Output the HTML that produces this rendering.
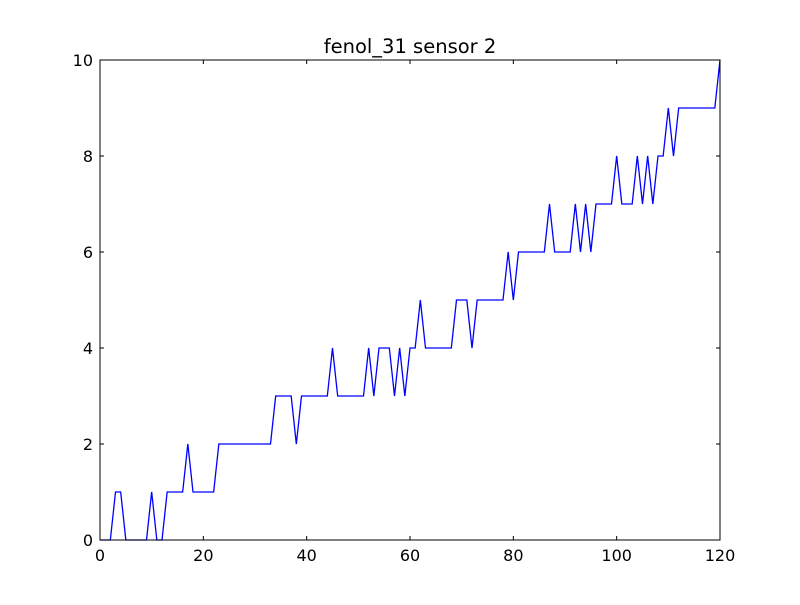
<!DOCTYPE html>
<html><head><meta charset="utf-8"><style>
body{margin:0;background:#fff;}
svg text{font-family:"DejaVu Sans","Liberation Sans",sans-serif;}
</style></head><body>
<svg id="chart" width="800" height="600" xmlns="http://www.w3.org/2000/svg">
<rect width="800" height="600" fill="#fff"/>
<text x="410" y="53" text-anchor="middle" font-size="19.5">fenol_31 sensor 2</text>
<g id="ticks"></g>
<polyline id="series" fill="none" stroke="#0000ff" stroke-width="1.3"/>
<rect x="100" y="60" width="620" height="480" fill="none" stroke="#000" stroke-width="1"/>
</svg>
<script>
const yValues = [0,0,0,1,1,0,0,0,0,0,1,0,0,1,1,1,1,2,1,1,1,1,1,2,2,2,2,2,2,2,2,2,2,2,3,3,3,3,2,3,3,3,3,3,3,4,3,3,3,3,3,3,4,3,4,4,4,3,4,3,4,4,5,4,4,4,4,4,4,5,5,5,4,5,5,5,5,5,5,6,5,6,6,6,6,6,6,7,6,6,6,6,7,6,7,6,7,7,7,7,8,7,7,7,8,7,8,7,8,8,9,8,9,9,9,9,9,9,9,9,10];
const xTicks = [0,20,40,60,80,100,120];
const yTicks = [0,2,4,6,8,10];
const X0=100,X1=720,Y0=540,Y1=60,XMAX=120,YMAX=10;
const xs=v=>X0+(X1-X0)*v/XMAX;
const ys=v=>Y0-(Y0-Y1)*v/YMAX;
const NS="http://www.w3.org/2000/svg";
document.getElementById('series').setAttribute('points',yValues.map((v,i)=>xs(i)+','+ys(v)).join(' '));
const g=document.getElementById('ticks');
function mk(tag,attrs){const e=document.createElementNS(NS,tag);for(const k in attrs)e.setAttribute(k,attrs[k]);g.appendChild(e);return e;}
xTicks.forEach(t=>{const x=xs(t);
 const a=mk('line',{x1:x,x2:x,y1:Y0,y2:Y0-4,stroke:'#000'});
 
 
 const b=mk('line',{x1:x,x2:x,y1:Y1,y2:Y1+4,stroke:'#000'});
 
 
 const l=mk('text',{x:x,y:Y0+21,'text-anchor':'middle','font-size':'16'});l.textContent=t;
 
 
});
yTicks.forEach(t=>{const y=ys(t);
 const a=mk('line',{x1:X0,x2:X0+4,y1:y,y2:y,stroke:'#000'});
 
 
 const b=mk('line',{x1:X1,x2:X1-4,y1:y,y2:y,stroke:'#000'});
 
 
 const l=mk('text',{x:X0-7,y:y+6,'text-anchor':'end','font-size':'16'});l.textContent=t;
 
 
});
</script>
</body></html>
